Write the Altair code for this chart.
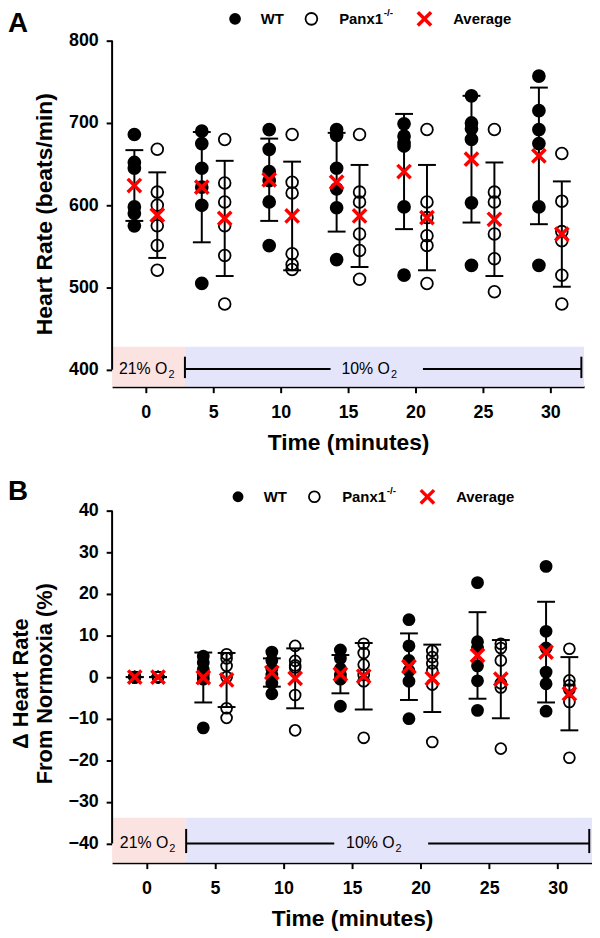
import altair as alt
import pandas as pd

FONT = "Liberation Sans"

times = [0, 5, 10, 15, 20, 25, 30]

# ---- Panel A: heart rate (beats/min), one list of mice per time point ----
hr_wt = [
    [686, 652, 645, 598, 590, 575],
    [690, 675, 645, 622, 600, 505],
    [692, 668, 641, 630, 604, 551],
    [692, 685, 645, 620, 597, 534],
    [699, 684, 676, 672, 598, 515],
    [733, 700, 693, 680, 603, 527],
    [757, 715, 692, 675, 598, 527],
]
hr_ko = [
    [668, 616, 600, 575, 551, 521],
    [680, 627, 604, 575, 539, 480],
    [686, 628, 615, 541, 528, 522],
    [686, 616, 604, 565, 545, 510],
    [692, 604, 585, 563, 551, 505],
    [692, 616, 604, 565, 535, 495],
    [663, 605, 568, 557, 515, 480],
]
hr_wt_mean = [624, 622, 631, 628, 641, 656, 660]
hr_wt_sd = [43, 67, 50, 60, 70, 77, 83]
hr_ko_mean = [588, 584, 587, 587, 585, 583, 565]
hr_ko_sd = [52, 70, 66, 62, 64, 69, 64]

# ---- Panel B: change in heart rate from normoxia (%) ----
d_wt = [
    [0, 0, 0, 0, 0, 0],
    [5.0, 3.5, 1.8, 0.5, -0.5, -12.2],
    [6.0, 4.0, 2.0, 0.5, -1.5, -4.0],
    [6.5, 4.5, 2.0, 0.5, -0.5, -7.0],
    [13.8, 7.5, 4.0, 1.5, -1.0, -10.0],
    [22.7, 8.5, 7.0, 2.7, -0.9, -8.0],
    [26.6, 11.0, 7.0, 1.2, -1.6, -8.2],
]
d_ko = [
    [0, 0, 0, 0, 0, 0],
    [5.5, 4.5, 2.7, 0.0, -7.5, -9.8],
    [7.5, 3.9, 2.8, 2.3, -4.3, -12.8],
    [8.0, 5.8, 3.0, 0.5, -1.0, -14.6],
    [6.3, 4.8, 3.3, 1.5, -1.8, -15.6],
    [8.0, 7.0, 4.0, -1.5, -2.5, -17.2],
    [6.8, -0.8, -2.0, -3.0, -6.0, -19.4],
]
d_wt_mean = [0, -0.1, 1.1, 0.7, 2.5, 5.2, 6.0]
d_wt_sd = [0, 6.0, 3.4, 4.6, 8.0, 10.4, 12.1]
d_ko_mean = [0, -0.7, -0.3, 0.2, -0.3, -0.5, -4.0]
d_ko_sd = [0, 6.5, 7.2, 8.0, 8.1, 9.4, 8.8]

hypoxia_start = 2.9
hypoxia_end = 32.3

XDOM = [-2.5, 32.5]
OFF = 0.85
XSHIFT = f"datum.time + (datum.group == 'WT' ? {-OFF} : {OFF})"

X_CROSS = "M -1 -1 L 1 1 M 1 -1 L -1 1"


def long_points(pw, pk):
    rows = []
    for t, vals in zip(times, pw):
        for v in vals:
            rows.append({"time": t, "group": "WT", "value": v})
    for t, vals in zip(times, pk):
        for v in vals:
            rows.append({"time": t, "group": "KO", "value": v})
    return pd.DataFrame(rows)


def summary(mw, sw, mk, sk):
    rows = []
    for t, m, s in zip(times, mw, sw):
        rows.append({"time": t, "group": "WT", "mean": m, "lo": m - s, "hi": m + s})
    for t, m, s in zip(times, mk, sk):
        rows.append({"time": t, "group": "KO", "mean": m, "lo": m - s, "hi": m + s})
    return pd.DataFrame(rows)


def one():
    return pd.DataFrame({"a": [0]})


def panel(pw, pk, mw, sw, mk, sk, *, ydom, yticks, ytitle, ytitle_lines, yline,
          band_top, bar_y, cap, width, height, letter, legend_y, letter_y, csize, lx0):
    xs = alt.Scale(domain=XDOM, nice=False, zero=False)
    ys = alt.Scale(domain=ydom, nice=False, zero=False)
    xaxis = alt.Axis(values=times, grid=False, domain=True, domainColor="black",
                     domainWidth=2, ticks=True, tickSize=6, tickWidth=2,
                     tickColor="black", labelFont=FONT, labelFontSize=18,
                     labelFontWeight="bold", labelColor="black", labelPadding=11,
                     titleFont=FONT, titleFontSize=23, titleFontWeight="bold",
                     titleColor="black", titlePadding=10, labelFlush=False)
    yaxis = alt.Axis(values=yticks, grid=False, domain=False, ticks=True,
                     tickSize=6, tickWidth=2, tickColor="black", labelFont=FONT,
                     labelFontSize=18, labelFontWeight="bold", labelColor="black",
                     labelPadding=8, titleFont=FONT, titleFontSize=23,
                     titleFontWeight="bold", titleColor="black",
                     titlePadding=12 if ytitle else 0, labelFlush=False)
    XT = "Time (minutes)"

    def Xq(f):
        return alt.X(f, type="quantitative", scale=xs, axis=xaxis, title=XT)

    def Yq(f):
        return alt.Y(f, type="quantitative", scale=ys, axis=yaxis, title=ytitle)

    band_df = pd.DataFrame({
        "x0": [XDOM[0], hypoxia_start], "x1": [hypoxia_start, XDOM[1]],
        "y0": [ydom[0], ydom[0]], "y1": [band_top, band_top],
        "c": ["#fbe3e1", "#e4e4fa"],
    })
    band = alt.Chart(band_df).mark_rect().encode(
        x=Xq("x0"), x2="x1", y=Yq("y0"), y2="y1",
        color=alt.Color("c:N", scale=None),
    )

    yl_df = pd.DataFrame({"y0": [yline[0]], "y1": [yline[1]]})
    yaxis_line = alt.Chart(yl_df).mark_rule(color="black", strokeWidth=2).encode(
        x=alt.value(0), y=Yq("y0"), y2="y1")

    seg_df = pd.DataFrame({"x0": [hypoxia_start, 20.55], "x1": [13.7, hypoxia_end],
                           "y": [bar_y, bar_y]})
    segs = alt.Chart(seg_df).mark_rule(color="black", strokeWidth=2).encode(
        x=Xq("x0"), x2="x1", y=Yq("y"))
    cap_df = pd.DataFrame({"x": [hypoxia_start, hypoxia_end],
                           "y0": [cap[0], cap[0]], "y1": [cap[1], cap[1]]})
    caps = alt.Chart(cap_df).mark_rule(color="black", strokeWidth=2).encode(
        x=Xq("x"), y=Yq("y0"), y2="y1")
    lab_df = pd.DataFrame({"x": [1.6, 18.1], "y": [bar_y, bar_y],
                           "t": ["21% O", "10% O"]})
    labs = alt.Chart(lab_df).mark_text(font=FONT, fontSize=16, align="right",
                                       baseline="middle", color="black").encode(
        x=Xq("x"), y=Yq("y"), text="t:N")
    subs = alt.Chart(lab_df).mark_text(font=FONT, fontSize=11, align="left",
                                       baseline="middle", dx=1, dy=6,
                                       color="black").encode(
        x=Xq("x"), y=Yq("y"), text=alt.value("2"))

    sdf = summary(mw, sw, mk, sk)
    pdf = long_points(pw, pk)

    bars = alt.Chart(sdf).transform_calculate(xp=XSHIFT).mark_rule(
        color="black", strokeWidth=2).encode(x=Xq("xp"), y=Yq("lo"), y2="hi")
    tick_lo = alt.Chart(sdf).transform_calculate(xp=XSHIFT).mark_tick(
        orient="horizontal", color="black", size=18, thickness=2, opacity=1).encode(
        x=Xq("xp"), y=Yq("lo"))
    tick_hi = alt.Chart(sdf).transform_calculate(xp=XSHIFT).mark_tick(
        orient="horizontal", color="black", size=18, thickness=2, opacity=1).encode(
        x=Xq("xp"), y=Yq("hi"))

    wt_pts = alt.Chart(pdf).transform_filter("datum.group == 'WT'").transform_calculate(
        xp=XSHIFT).mark_point(shape="circle", filled=True, fill="black",
                              stroke="black", size=csize, opacity=1).encode(
        x=Xq("xp"), y=Yq("value"))
    ko_pts = alt.Chart(pdf).transform_filter("datum.group == 'KO'").transform_calculate(
        xp=XSHIFT).mark_point(shape="circle", filled=False, stroke="black",
                              strokeWidth=1.8, size=csize, opacity=1).encode(
        x=Xq("xp"), y=Yq("value"))
    means = alt.Chart(sdf).transform_calculate(xp=XSHIFT).mark_point(
        shape=X_CROSS, filled=False, stroke="#ff0000", strokeWidth=3.5, size=180,
        opacity=1).encode(x=Xq("xp"), y=Yq("mean"))

    # legend drawn above the plot
    lt = dict(font=FONT, fontSize=15, fontWeight="bold", color="black",
              align="left", baseline="middle")
    extra = [
        alt.Chart(one()).mark_point(shape="circle", filled=True, fill="black",
                                    size=csize, opacity=1).encode(
            x=alt.value(lx0), y=alt.value(legend_y)),
        alt.Chart(one()).mark_text(text="WT", **lt).encode(
            x=alt.value(lx0 + 26), y=alt.value(legend_y)),
        alt.Chart(one()).mark_point(shape="circle", filled=False, stroke="black",
                                    strokeWidth=1.8, size=csize, opacity=1).encode(
            x=alt.value(lx0 + 77), y=alt.value(legend_y)),
        alt.Chart(one()).mark_text(text="Panx1", **lt).encode(
            x=alt.value(lx0 + 105), y=alt.value(legend_y)),
        alt.Chart(one()).mark_text(text="-/-", font=FONT, fontSize=10,
                                   fontWeight="bold", color="black", align="left",
                                   baseline="middle").encode(
            x=alt.value(lx0 + 150), y=alt.value(legend_y - 6)),
        alt.Chart(one()).mark_point(shape=X_CROSS, filled=False, stroke="#ff0000",
                                    strokeWidth=3.5, size=180, opacity=1).encode(
            x=alt.value(lx0 + 191), y=alt.value(legend_y)),
        alt.Chart(one()).mark_text(text="Average", **lt).encode(
            x=alt.value(lx0 + 220), y=alt.value(legend_y)),
        alt.Chart(one()).mark_text(text=letter, font=FONT, fontSize=28,
                                   fontWeight="bold", color="black", align="left",
                                   baseline="top").encode(
            x=alt.value(-105), y=alt.value(letter_y)),
    ]
    # multi-line rotated y title drawn as text (left line first)
    for txt, xpx in ytitle_lines:
        extra.append(
            alt.Chart(one()).mark_text(text=txt, font=FONT, fontSize=22,
                                       fontWeight="bold", color="black",
                                       align="center", baseline="middle",
                                       angle=270).encode(
                x=alt.value(xpx), y=alt.value(height / 2 - 3)))

    return alt.layer(band, yaxis_line, segs, caps, labs, subs, bars, tick_lo,
                     tick_hi, wt_pts, ko_pts, means, *extra).properties(
        width=width, height=height)


panelA = panel(hr_wt, hr_ko, hr_wt_mean, hr_wt_sd, hr_ko_mean, hr_ko_sd,
               ydom=[379.5, 800], yticks=[400, 500, 600, 700, 800],
               ytitle="Heart Rate (beats/min)", ytitle_lines=[], yline=[400, 800],
               band_top=428, bar_y=401, cap=[390, 416], width=476, height=349,
               letter="A", legend_y=-22, letter_y=-31, csize=140, lx0=124)

panelB = panel(d_wt, d_ko, d_wt_mean, d_wt_sd, d_ko_mean, d_ko_sd,
               ydom=[-44.6, 40], yticks=[-40, -30, -20, -10, 0, 10, 20, 30, 40],
               ytitle="",
               ytitle_lines=[("\u0394 Heart Rate", -92), ("From Normoxia (%)", -68)],
               yline=[-40, 40], band_top=-33.8, bar_y=-40, cap=[-42.3, -36.5],
               width=484, height=355, letter="B", legend_y=-14, letter_y=-33,
               csize=120, lx0=127)

chart = alt.vconcat(panelA, panelB, spacing=24).properties(
    padding={"left": 0, "top": -7, "right": 0, "bottom": 0}
).configure_view(stroke=None)

chart.save("out.html", embed_options={"renderer": "svg", "actions": False})
